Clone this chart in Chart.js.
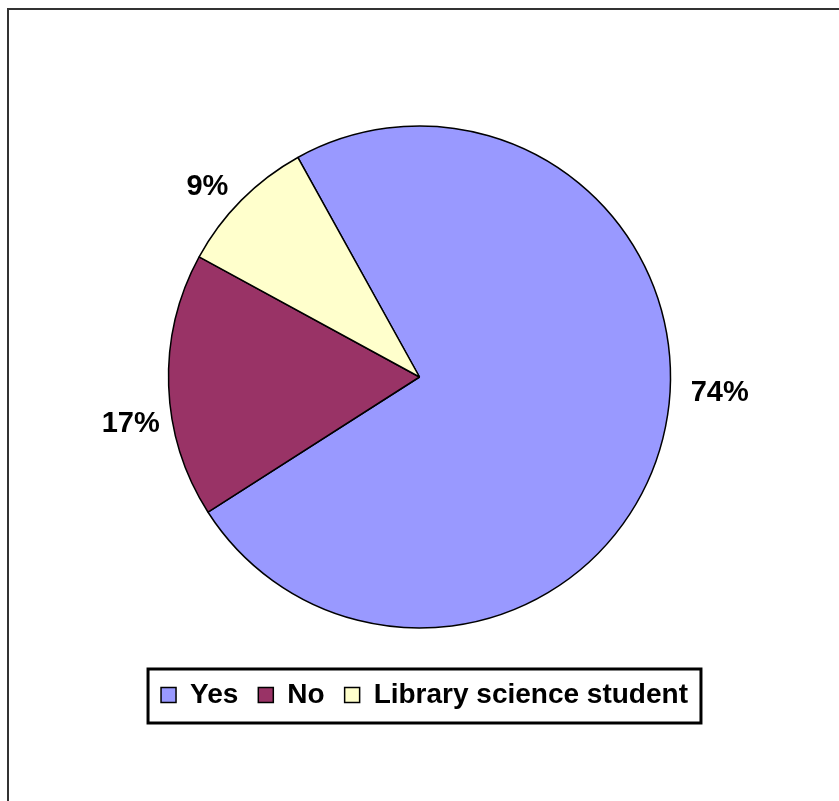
<!DOCTYPE html>
<html>
<head>
<meta charset="utf-8">
<script src="https://cdn.jsdelivr.net/npm/chart.js@4.4.1/dist/chart.umd.min.js"></script>
<style>
    html, body { margin: 0; padding: 0; background: #fff; }
    body { width: 839px; height: 801px; position: relative; overflow: hidden; }
    #frame {
        position: absolute; left: 7px; top: 8px; width: 840px; height: 900px;
        border: 2px solid #333; box-sizing: border-box;
    }
    #wrap { position: absolute; left: 0; top: 0; width: 839px; height: 801px; }
</style>
</head>
<body>
<div id="frame"></div>
<div id="wrap"><canvas id="pieChart" width="839" height="801"></canvas></div>
<script>
document.addEventListener('DOMContentLoaded', () => {
    // Survey answers
    const categories = ['Yes', 'No', 'Library science student'];
    const shares = [74, 17, 9];
    const sliceColors = ['#9999FF', '#993366', '#FFFFCC'];

    // Where each percentage sits relative to its slice's outer mid point
    const labelGap = 38;
    const labelNudge = [[20, -55], [0, 37], [-7, 14]];

    const FONT = '"Liberation Sans", Arial, sans-serif';

    // Prints the share next to every slice
    const percentLabels = {
        id: 'percentLabels',
        afterDatasetsDraw(chart) {
            const { ctx } = chart;
            const meta = chart.getDatasetMeta(0);
            ctx.save();
            ctx.font = 'bold 29px ' + FONT;
            ctx.fillStyle = '#000';
            ctx.textAlign = 'center';
            ctx.textBaseline = 'middle';
            meta.data.forEach((arc, i) => {
                const mid = (arc.startAngle + arc.endAngle) / 2;
                const r = arc.outerRadius + labelGap;
                const x = arc.x + Math.cos(mid) * r + labelNudge[i][0];
                const y = arc.y + Math.sin(mid) * r + labelNudge[i][1];
                ctx.fillText(shares[i] + '%', x, y);
            });
            ctx.restore();
        }
    };

    // Legend sits a little right of the pie's centre line
    const legendShift = {
        id: 'legendShift',
        afterLayout(chart) {
            chart.legend.left += 5;
            chart.legend.right += 5;
        }
    };

    // Black box around the legend entries
    const legendFrame = {
        id: 'legendFrame',
        afterDraw(chart) {
            const boxes = chart.legend.legendHitBoxes;
            if (!boxes || !boxes.length) return;
            const first = boxes[0], last = boxes[boxes.length - 1];
            const left = first.left - 13;
            const right = last.left + last.width + 13;
            const top = first.top - 12;
            const bottom = first.top + first.height + 14;
            const ctx = chart.ctx;
            ctx.save();
            ctx.strokeStyle = '#000';
            ctx.lineWidth = 3;
            ctx.strokeRect(left, top, right - left, bottom - top);
            ctx.restore();
        }
    };

    new Chart(document.getElementById('pieChart'), {
        type: 'pie',
        data: {
            labels: categories,
            datasets: [{
                data: shares,
                backgroundColor: sliceColors,
                borderColor: '#000',
                borderWidth: 1.5,
                radius: 251
            }]
        },
        options: {
            responsive: false,
            animation: false,
            rotation: -29,
            layout: { padding: { top: 93, bottom: 82, left: 0, right: 0 } },
            plugins: {
                tooltip: { enabled: false },
                legend: {
                    position: 'bottom',
                    labels: {
                        color: '#000',
                        font: { family: FONT, size: 28, weight: 'bold' },
                        boxWidth: 15,
                        boxHeight: 15,
                        padding: 20
                    }
                }
            }
        },
        plugins: [percentLabels, legendShift, legendFrame]
    });
});
</script>
</body>
</html>
